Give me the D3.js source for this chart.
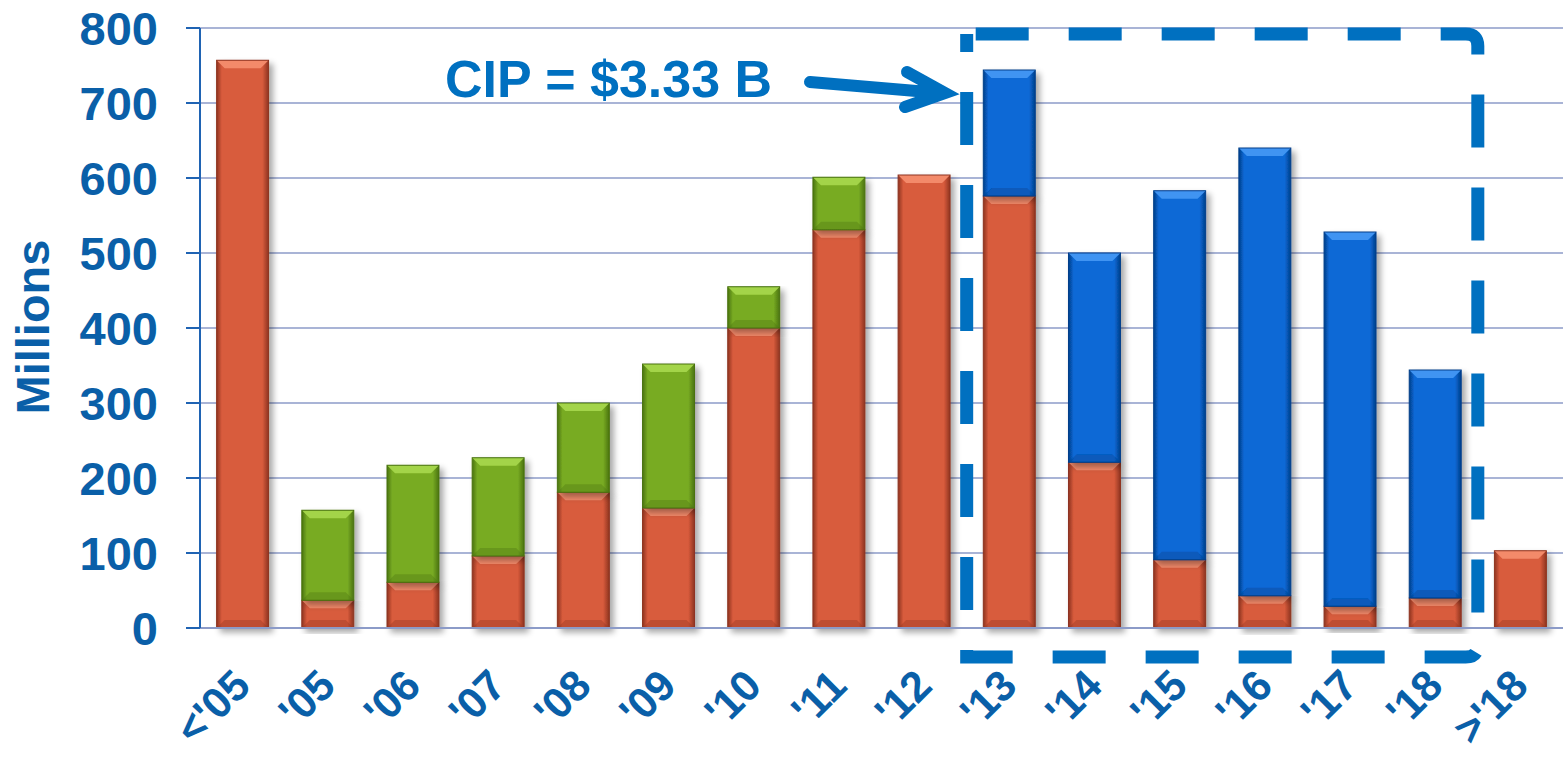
<!DOCTYPE html>
<html>
<head>
<meta charset="utf-8">
<script src="https://cdn.jsdelivr.net/npm/d3@7"></script>
<style>
  body { margin: 0; background: #fff; }
  text { font-family: Arial, "Liberation Sans", sans-serif; font-weight: bold; }
</style>
</head>
<body>
<svg id="chart" width="1563" height="763"></svg>
<script>

  var categories = ["<'05", "'05", "'06", "'07", "'08", "'09", "'10", "'11", "'12",
                    "'13", "'14", "'15", "'16", "'17", "'18", ">'18"];
  var red   = [757, 37, 61, 96, 181, 160, 400, 531, 604, 576, 221, 91, 43, 29, 40, 103];
  var green = [0, 120, 156, 131, 119, 192, 55, 70, 0, 0, 0, 0, 0, 0, 0, 0];
  var blue  = [0, 0, 0, 0, 0, 0, 0, 0, 0, 168, 279, 492, 597, 499, 304, 0];
  var yTicks = [0, 100, 200, 300, 400, 500, 600, 700, 800];
  var note = "CIP = $3.33 B";

  var axisBlue = '#0a5fa8';
  var boxBlue = '#0070c0';

  var svg = d3.select('#chart');
  var x = d3.scaleBand().domain(categories).range([200, 1563])
    .paddingInner(0.39).paddingOuter(0.195);
  var y = d3.scaleLinear().domain([0, 800]).range([628, 28]);

  // colour sets: base, light bevel, dark bevel
  var palette = {
    red:   { base: '#d85b3c', light: '#f38a6b', dark: '#8e3420' },
    green: { base: '#78ab23', light: '#a3d449', dark: '#4a7310' },
    blue:  { base: '#0869d6', light: '#3f94f2', dark: '#053f8a' }
  };

  var defs = svg.append('defs');
  var shadow = defs.append('filter').attr('id', 'shadow')
    .attr('x', '-20%').attr('y', '-10%').attr('width', '150%').attr('height', '130%');
  shadow.append('feGaussianBlur').attr('in', 'SourceAlpha').attr('stdDeviation', 3).attr('result', 'b');
  shadow.append('feOffset').attr('in', 'b').attr('dx', 4).attr('dy', 4).attr('result', 'o');
  shadow.append('feComponentTransfer').attr('in', 'o').attr('result', 's')
    .append('feFuncA').attr('type', 'linear').attr('slope', 0.35);
  var m = shadow.append('feMerge');
  m.append('feMergeNode').attr('in', 's');
  m.append('feMergeNode').attr('in', 'SourceGraphic');

  Object.keys(palette).forEach(function (k) {
    var p = palette[k];
    var g = defs.append('linearGradient').attr('id', 'grad-' + k)
      .attr('x1', 0).attr('x2', 1).attr('y1', 0).attr('y2', 0);
    g.append('stop').attr('offset', '0%').attr('stop-color', p.dark);
    g.append('stop').attr('offset', '10%').attr('stop-color', p.base);
    g.append('stop').attr('offset', '88%').attr('stop-color', p.base);
    g.append('stop').attr('offset', '100%').attr('stop-color', p.dark);
  });

  // gridlines
  svg.append('g').selectAll('line').data(yTicks.slice(1)).enter().append('line')
    .attr('x1', 200).attr('x2', 1563)
    .attr('y1', function (d) { return y(d); }).attr('y2', function (d) { return y(d); })
    .attr('stroke', '#8c9bc8').attr('stroke-width', 1.6);

  // stacked segments
  var segments = [];
  categories.forEach(function (c, i) {
    var base = 0;
    [['red', red[i]], ['green', green[i]], ['blue', blue[i]]].forEach(function (s) {
      if (s[1] > 0) {
        segments.push({ cat: c, key: s[0], y0: base, y1: base + s[1] });
        base += s[1];
      }
    });
  });

  var bars = svg.append('g').selectAll('g.seg').data(segments).enter().append('g')
    .attr('class', 'seg').attr('filter', 'url(#shadow)');

  bars.each(function (d) {
    var g = d3.select(this);
    var x0 = x(d.cat), w = x.bandwidth();
    var top = y(d.y1), bot = y(d.y0), b = 8;
    var p = palette[d.key];
    g.append('rect').attr('x', x0).attr('y', top).attr('width', w).attr('height', bot - top)
      .attr('fill', 'url(#grad-' + d.key + ')');
    g.append('path')
      .attr('d', 'M' + x0 + ',' + top + 'H' + (x0 + w) + 'L' + (x0 + w - b) + ',' + (top + b) +
                 'H' + (x0 + b) + 'Z')
      .attr('fill', p.light);
    g.append('path')
      .attr('d', 'M' + x0 + ',' + bot + 'H' + (x0 + w) + 'L' + (x0 + w - b) + ',' + (bot - b) +
                 'H' + (x0 + b) + 'Z')
      .attr('fill', p.dark).attr('opacity', 0.35);
    g.append('rect').attr('x', x0).attr('y', top).attr('width', w).attr('height', bot - top)
      .attr('fill', 'none').attr('stroke', p.dark).attr('stroke-width', 1);
  });

  // axes lines and ticks
  svg.append('line').attr('x1', 186).attr('x2', 1563).attr('y1', y(0)).attr('y2', y(0))
    .attr('stroke', '#8c9bc8').attr('stroke-width', 2);
  svg.append('line').attr('x1', 200).attr('x2', 200).attr('y1', y(800)).attr('y2', y(0))
    .attr('stroke', '#1f63b3').attr('stroke-width', 2);
  svg.append('g').selectAll('line').data(yTicks).enter().append('line')
    .attr('x1', 186).attr('x2', 200)
    .attr('y1', function (d) { return y(d); }).attr('y2', function (d) { return y(d); })
    .attr('stroke', '#1f63b3').attr('stroke-width', 2);

  svg.append('g').selectAll('text').data(yTicks).enter().append('text')
    .attr('x', 158).attr('y', function (d) { return y(d); }).attr('dy', '0.36em')
    .attr('text-anchor', 'end').attr('font-size', 47).attr('fill', axisBlue)
    .text(function (d) { return d; });

  svg.append('text').attr('transform', 'translate(49,327) rotate(-90)')
    .attr('text-anchor', 'middle').attr('font-size', 47).attr('fill', axisBlue)
    .text('Millions');

  svg.append('g').selectAll('text').data(categories).enter().append('text')
    .attr('transform', function (d) {
      return 'translate(' + (x(d) + x.bandwidth() / 2 + 10) + ',688) rotate(-45)';
    })
    .attr('text-anchor', 'end').attr('font-size', 43).attr('fill', axisBlue)
    .text(function (d) { return d; });

  // dashed CIP box
  var bx0 = (x("'12") + x.bandwidth() + x("'13")) / 2, bx1 = (x("'18") + x.bandwidth() + x(">'18")) / 2;
  var by0 = 34, by1 = 657, r = 12;
  svg.append('path')
    .attr('d', 'M' + bx0 + ',' + by0 + 'H' + (bx1 - r) + 'Q' + bx1 + ',' + by0 + ' ' + bx1 + ',' + (by0 + r) +
               'V' + (by1 - r) + 'Q' + bx1 + ',' + by1 + ' ' + (bx1 - r) + ',' + by1 + 'H' + bx0 + 'Z')
    .attr('fill', 'none').attr('stroke', boxBlue).attr('stroke-width', 13)
    .attr('stroke-dasharray', '53,40').attr('stroke-dashoffset', 84);

  // note and arrow
  svg.append('text').attr('x', 445).attr('y', 97).attr('font-size', 52).attr('fill', boxBlue)
    .text(note);
  svg.append('path').attr('d', 'M810,82L940,93M907,72L945,93L905,107')
    .attr('fill', 'none').attr('stroke', boxBlue).attr('stroke-width', 12)
    .attr('stroke-linecap', 'round').attr('stroke-linejoin', 'miter');

</script>
</body>
</html>
